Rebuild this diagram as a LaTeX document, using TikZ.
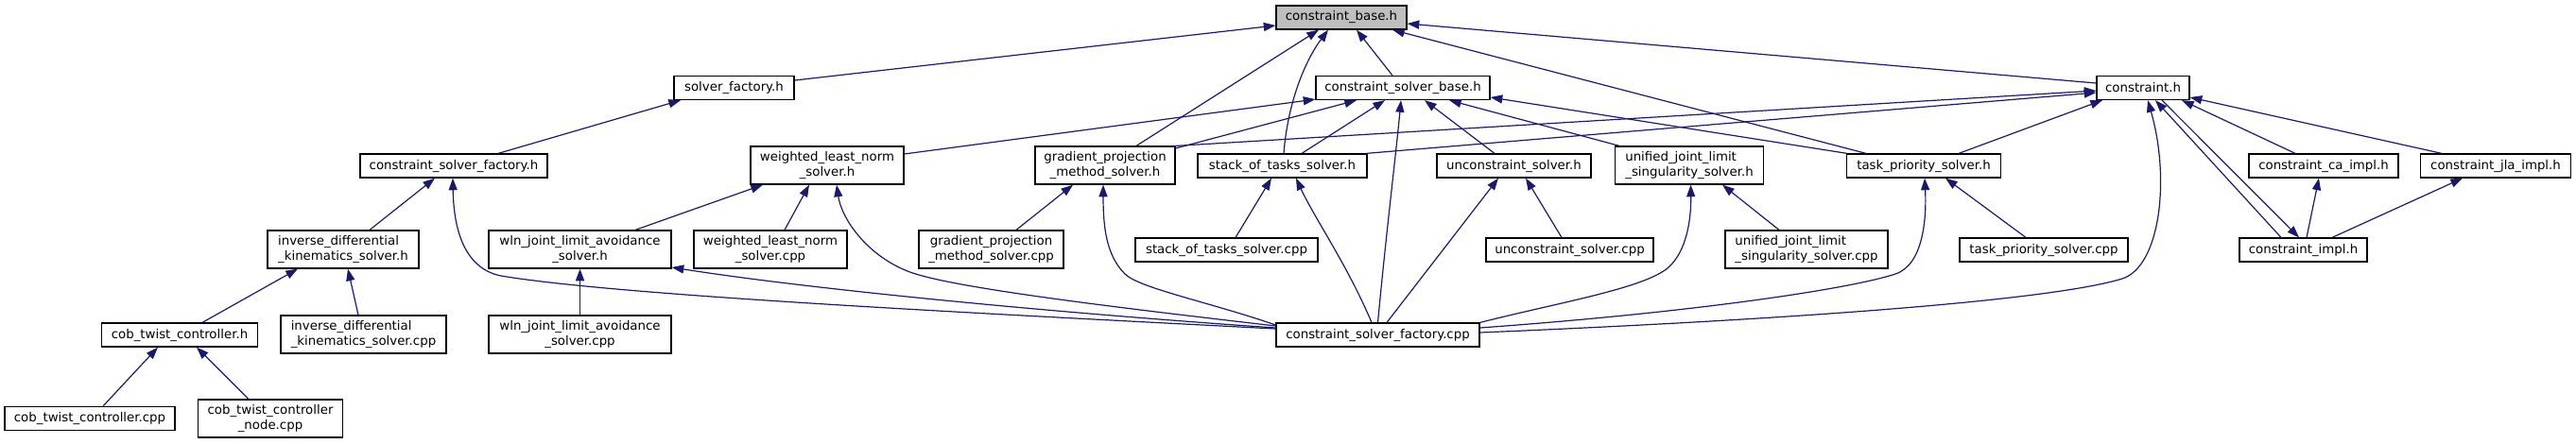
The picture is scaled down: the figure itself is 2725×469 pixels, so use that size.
\documentclass[tikz,border=0pt]{standalone}
\usepackage{fontspec}
\setmainfont{DejaVu Sans}
\usetikzlibrary{arrows.meta,calc}
\definecolor{midblue}{HTML}{191970}
\definecolor{rootgrey}{HTML}{BFBFBF}
\begin{document}
\begin{tikzpicture}[x=0.75pt,y=-0.75pt,
  filebox/.style={draw=black, line width=0.9pt, fill=white, rectangle, inner xsep=0pt, inner ysep=0pt,
    font=\fontsize{10pt}{11.3pt}\selectfont, align=center},
  one/.style={filebox, minimum height=18.75pt},
  two/.style={filebox, minimum height=30pt},
  rootbox/.style={one, fill=rootgrey},
  dep/.style={draw=midblue, line width=0.9pt, -{Triangle[length=9.5pt,width=6.8pt]}}]
\useasboundingbox (0,0) rectangle (2725,469);
% row 1
\node[rootbox, minimum width=103.5pt] (cb_h) at (1419,18.5) {constraint\_base.h};
% row 2
\node[one, minimum width=95.25pt] (sf_h) at (776.5,93) {solver\_factory.h};
\node[one, minimum width=138pt] (csb_h) at (1484,93) {constraint\_solver\_base.h};
\node[one, minimum width=73.5pt] (c_h) at (2267,93) {constraint.h};
% row 3
\node[one, minimum width=148.5pt] (csf_h) at (480,175.5) {constraint\_solver\_factory.h};
\node[two, minimum width=121.5pt] (wlns_h) at (875,175) {weighted\_least\_norm\\\_solver.h};
\node[two, minimum width=111pt] (gpm_h) at (1169,175) {gradient\_projection\\\_method\_solver.h};
\node[one, minimum width=134.25pt] (sot_h) at (1356.5,175.5) {stack\_of\_tasks\_solver.h};
\node[one, minimum width=122.25pt] (unc_h) at (1601.5,175.5) {unconstraint\_solver.h};
\node[two, minimum width=117.75pt, align=left] (ujl_h) at (1787,175) {unified\_joint\_limit\\\_singularity\_solver.h};
\node[one, minimum width=122.25pt] (tp_h) at (2035,175.5) {task\_priority\_solver.h};
\node[one, minimum width=118.5pt] (cca_h) at (2458,175.5) {constraint\_ca\_impl.h};
\node[one, minimum width=119.25pt] (cjla_h) at (2640,175.5) {constraint\_jla\_impl.h};
% row 4
\node[two, minimum width=120pt, align=left] (idk_h) at (363,264) {inverse\_differential\\\_kinematics\_solver.h};
\node[two, minimum width=144.75pt] (wln_h) at (613.5,264) {wln\_joint\_limit\_avoidance\\\_solver.h};
\node[two, minimum width=121.5pt] (wlns_cpp) at (815,264) {weighted\_least\_norm\\\_solver.cpp};
\node[two, minimum width=114.75pt] (gpm_cpp) at (1048.5,264) {gradient\_projection\\\_method\_solver.cpp};
\node[one, minimum width=144.75pt] (sot_cpp) at (1297.5,264.5) {stack\_of\_tasks\_solver.cpp};
\node[one, minimum width=132.75pt] (unc_cpp) at (1660.5,264.5) {unconstraint\_solver.cpp};
\node[two, minimum width=129pt, align=left] (ujl_cpp) at (1911,264) {unified\_joint\_limit\\\_singularity\_solver.cpp};
\node[one, minimum width=133.5pt] (tp_cpp) at (2162,264.5) {task\_priority\_solver.cpp};
\node[one, minimum width=101.25pt] (ci_h) at (2436.5,264.5) {constraint\_impl.h};
% row 5
\node[one, minimum width=123.75pt] (ctc_h) at (190,354.5) {cob\_twist\_controller.h};
\node[two, minimum width=131.25pt, align=left] (idk_cpp) at (384.5,354) {inverse\_differential\\\_kinematics\_solver.cpp};
\node[two, minimum width=144.75pt] (wln_cpp) at (613.5,354) {wln\_joint\_limit\_avoidance\\\_solver.cpp};
\node[one, minimum width=161.25pt] (csf_cpp) at (1457.5,354.5) {constraint\_solver\_factory.cpp};
% row 6
\node[one, minimum width=135pt] (ctc_cpp) at (95,443) {cob\_twist\_controller.cpp};
\node[two, minimum width=114.75pt] (ctcn_cpp) at (286,443) {cob\_twist\_controller\\\_node.cpp};

% edges into constraint_base.h
\draw[dep] ($(sf_h.east)+(0,-8)$) -- ($(cb_h.west)+(0,8.5)$);
\draw[dep] ($(gpm_h.north)+(33,0)$) -- ($(cb_h.south)+(-24,0)$);
\draw[dep] ($(sot_h.north)+(1.5,0)$) .. controls (1362,110) and (1380,65) .. ($(cb_h.south)+(-14,0)$);
\draw[dep] ($(csb_h.north)+(-11,0)$) -- ($(cb_h.south)+(16,0)$);
\draw[dep] ($(tp_h.north)+(-61,0)$) -- ($(cb_h.south)+(54,0)$);
\draw[dep] ($(c_h.west)+(0,-5)$) -- ($(cb_h.east)+(0,6.5)$);
% edges into constraint_solver_base.h
\draw[dep] ($(wlns_h.east)+(0,-12)$) -- ($(csb_h.south west)+(0,-1)$);
\draw[dep] ($(gpm_h.east)+(0,-18)$) -- ($(csb_h.south)+(-49,0)$);
\draw[dep] ($(sot_h.north)+(20.5,0)$) -- ($(csb_h.south)+(-19,0)$);
\draw[dep] (csf_cpp.north) .. controls (1466,250) and (1477,160) .. ($(csb_h.south)+(-2,0)$);
\draw[dep] ($(unc_h.north)+(-20.5,0)$) -- ($(csb_h.south)+(23,0)$);
\draw[dep] ($(ujl_h.north)+(-74,0)$) -- ($(csb_h.south)+(49,0)$);
\draw[dep] ($(tp_h.north)+(-81,0)$) -- ($(csb_h.east)+(0,10)$);
% edges into constraint.h
\draw[dep] (gpm_h.north east) -- ($(c_h.west)+(0,3)$);
\draw[dep] ($(sot_h.north)+(88.5,0)$) -- ($(c_h.west)+(0,5)$);
\draw[dep] ($(tp_h.north)+(37,0)$) -- ($(c_h.south)+(-43,0)$);
\draw[dep] ($(csf_cpp.east)+(0,-2.5)$) .. controls (1900,338) and (2170,318) .. (2245,295) .. controls (2285,282) and (2296,190) .. ($(c_h.south)+(5,0)$);
\draw[dep] ($(ci_h.north)+(-23.5,0)$) -- ($(c_h.south)+(13,0)$);
\draw[dep] ($(cca_h.north)+(-30,0)$) -- ($(c_h.south)+(41,0)$);
\draw[dep] ($(cjla_h.north)+(-57,0)$) -- ($(c_h.east)+(0,10)$);
% constraint.h -> constraint_impl.h and impl edges
\draw[dep] ($(c_h.south)+(20,0)$) -- ($(ci_h.north)+(-4.5,0)$);
\draw[dep] ($(ci_h.north)+(3.5,0)$) -- ($(cca_h.south)+(-5,0)$);
\draw[dep] ($(ci_h.north)+(30.5,0)$) -- ($(cjla_h.south)+(-35,0)$);
% task_priority_solver.h
\draw[dep] ($(tp_cpp.north)+(-19,0)$) -- ($(tp_h.south)+(23,0)$);
\draw[dep] ($(csf_cpp.east)+(0,-7.5)$) .. controls (1800,330) and (1960,305) .. (2005,290) .. controls (2035,280) and (2038,230) .. ($(tp_h.south)+(1,0)$);
% unified_joint_limit_singularity_solver.h
\draw[dep] (csf_cpp.north east) .. controls (1650,320) and (1740,305) .. (1765,283) .. controls (1785,265) and (1789,230) .. ($(ujl_h.south)+(1.5,0)$);
\draw[dep] ($(ujl_cpp.north)+(-29,0)$) -- ($(ujl_h.south)+(35,0)$);
% unconstraint_solver.h
\draw[dep] ($(csf_cpp.north)+(9.5,0)$) -- ($(unc_h.south)+(-16.5,0)$);
\draw[dep] ($(unc_cpp.north)+(-8.5,0)$) -- ($(unc_h.south)+(12.5,0)$);
% stack_of_tasks_solver.h
\draw[dep] ($(sot_cpp.north)+(9.5,0)$) -- ($(sot_h.south)+(-11.5,0)$);
\draw[dep] ($(csf_cpp.north)+(-6.5,0)$) .. controls (1425,280) and (1390,230) .. ($(sot_h.south)+(14.5,0)$);
% gradient_projection_method_solver.h
\draw[dep] ($(gpm_cpp.north)+(26.5,0)$) -- ($(gpm_h.south)+(-34,0)$);
\draw[dep] ($(csf_cpp.west)+(0,-10.5)$) .. controls (1280,320) and (1205,305) .. (1190,290) .. controls (1170,270) and (1167,240) .. ($(gpm_h.south)+(-2,0)$);
% weighted_least_norm_solver.h
\draw[dep] ($(wln_h.north)+(58.5,0)$) -- ($(wlns_h.south)+(-68,0)$);
\draw[dep] ($(wlns_cpp.north)+(15,0)$) -- ($(wlns_h.south)+(-19,0)$);
\draw[dep] ($(csf_cpp.west)+(0,-9.5)$) .. controls (1150,322) and (1000,303) .. (960,287) .. controls (915,269) and (890,230) .. ($(wlns_h.south)+(10,0)$);
% wln_joint_limit_avoidance_solver.h
\draw[dep] (wln_cpp.north) -- (wln_h.south);
\draw[dep] ($(csf_cpp.west)+(0,-7.5)$) .. controls (1100,330) and (850,305) .. ($(wln_h.east)+(0,19)$);
% constraint_solver_factory.h
\draw[dep] ($(idk_h.north)+(28,0)$) -- ($(csf_h.south)+(-20,0)$);
\draw[dep] ($(csf_cpp.west)+(0,-6.5)$) .. controls (1000,330) and (650,312) .. (530,292) .. controls (495,285) and (480,250) .. ($(csf_h.south)+(-1,0)$);
\draw[dep] ($(csf_h.north)+(47,0)$) -- ($(sf_h.south)+(-56.5,0)$);
% inverse_differential_kinematics_solver.h
\draw[dep] ($(ctc_h.north)+(24,0)$) -- ($(idk_h.south)+(-48,0)$);
\draw[dep] ($(idk_cpp.north)+(-5.5,0)$) -- ($(idk_h.south)+(5,0)$);
% cob_twist_controller.h
\draw[dep] ($(ctc_cpp.north)+(14,0)$) -- ($(ctc_h.south)+(-23,0)$);
\draw[dep] ($(ctcn_cpp.north)+(-23,0)$) -- ($(ctc_h.south)+(18,0)$);
\end{tikzpicture}
\end{document}
